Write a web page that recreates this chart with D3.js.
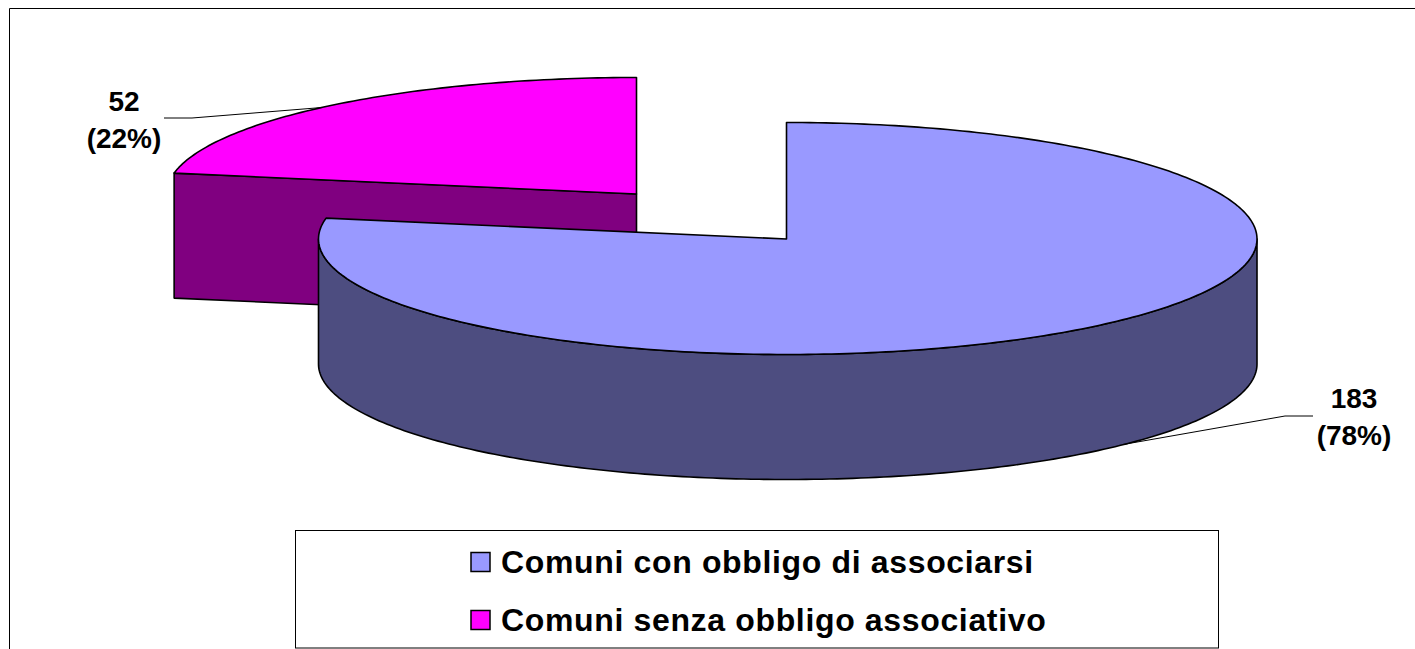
<!DOCTYPE html>
<html>
  <head>
    <meta charset="utf-8">
    <title>Comuni</title>
    <style>
      html, body { margin: 0; background: white; overflow: hidden; }
      svg { display: block; }
      text { font-family: "Liberation Sans", Arial, sans-serif; font-weight: bold; fill: black; }
      .edge { stroke: black; stroke-width: 1.6; stroke-linejoin: round; }
      .leader { fill: none; stroke: black; stroke-width: 1; }
      .frame { stroke: black; stroke-width: 1; fill: none; }
    </style>
  </head>
  <body>
    <svg width="1415" height="649"></svg>
    <script src="https://d3js.org/d3.v7.min.js"></script>
    <script type="application/javascript">
      const categories = ['Comuni con obbligo di associarsi', 'Comuni senza obbligo associativo'];
      const values = [183, 52];
      const topColors = ['#9999ff', '#ff00ff'];
      const sideColors = ['#4d4d80', '#800080'];

      const width = 1415;
      const height = 649;
      const svg = d3.select('svg');

      // top face centre of each slice, the magenta one is pulled out to the left
      const centers = [{x: 786.5, y: 239, left: 468}, {x: 636.5, y: 194, left: 470}];
      const rx = 470.5;
      const depth = 125;

      // pie angle (0 = 12 o'clock, clockwise) on to the tilted ellipse
      const py = d3.scaleLinear().domain([-1, 0, 1]).range([-116.5, 0, 115.5]);
      const slices = d3.pie().sort(null)(values);
      const total = d3.sum(values);
      const percent = d3.format('.0%');
      const line = d3.line();

      function rim(center, angle, drop) {
        const px = d3.scaleLinear().domain([-1, 0, 1]).range([-center.left, 0, rx]);
        return [center.x + px(Math.sin(angle)), center.y + py(-Math.cos(angle)) + (drop || 0)];
      }

      function arcPoints(center, a0, a1, drop) {
        const steps = Math.max(2, Math.ceil(Math.abs(a1 - a0) * 60));
        return d3.range(steps + 1).map(i => rim(center, a0 + (a1 - a0) * i / steps, drop));
      }

      function drawPoly(points, fill) {
        svg.append('path')
          .attr('class', 'edge')
          .attr('d', line(points) + 'Z')
          .attr('fill', fill);
      }

      svg.append('path')
        .attr('class', 'frame')
        .attr('d', `M9.5,${height}V8.5H${width}`);

      // magenta slice first, the blue one overlaps it
      const pink = slices[1];
      const pinkC = centers[1];
      const pinkLeft = rim(pinkC, pink.startAngle);
      drawPoly([
        pinkLeft,
        [pinkC.x, pinkC.y],
        [pinkC.x, pinkC.y + depth],
        [pinkLeft[0], pinkLeft[1] + depth]
      ], sideColors[1]);
      drawPoly(arcPoints(pinkC, pink.startAngle, pink.endAngle).concat([[pinkC.x, pinkC.y]]), topColors[1]);

      // blue slice: front wall, then top face
      const blue = slices[0];
      const blueC = centers[0];
      const front = [Math.PI / 2, Math.PI * 3 / 2];
      drawPoly(
        arcPoints(blueC, front[0], front[1]).concat(arcPoints(blueC, front[1], front[0], depth)),
        sideColors[0]
      );
      drawPoly(arcPoints(blueC, blue.startAngle, blue.endAngle).concat([[blueC.x, blueC.y]]), topColors[0]);

      // data labels with their leader lines
      const labels = [
        {i: 0, x: 1354, y: 408, path: [[1313, 416], [1285, 416], [1123, 444.5]]},
        {i: 1, x: 124, y: 111, path: [[164, 118], [192, 118], [322, 107.5]]}
      ];

      labels.forEach(l => {
        svg.append('path')
          .attr('class', 'leader')
          .attr('d', line(l.path));

        svg.append('text')
          .attr('x', l.x)
          .attr('y', l.y)
          .attr('text-anchor', 'middle')
          .style('font-size', '28px')
          .text(values[l.i]);

        svg.append('text')
          .attr('x', l.x)
          .attr('y', l.y + 37)
          .attr('text-anchor', 'middle')
          .style('font-size', '28px')
          .text(`(${percent(values[l.i] / total)})`);
      });

      // legend
      svg.append('rect')
        .attr('class', 'frame')
        .attr('x', 295.5)
        .attr('y', 530.5)
        .attr('width', 923)
        .attr('height', 117.5);

      const rows = d3.scaleBand().domain(d3.range(categories.length)).range([533, 649]);

      const legend = svg.append('g')
        .selectAll('g')
        .data(categories)
        .enter()
          .append('g')
          .attr('transform', (d, i) => `translate(0, ${rows(i) + rows.bandwidth() / 2})`);

      legend.append('rect')
        .attr('x', 471)
        .attr('y', -9.5)
        .attr('width', 19)
        .attr('height', 19)
        .attr('fill', (d, i) => topColors[i])
        .attr('stroke', 'black')
        .attr('stroke-width', 1.5);

      legend.append('text')
        .attr('x', 501)
        .attr('y', 11)
        .style('font-size', '32px')
        .style('letter-spacing', '0.65px')
        .text(d => d);
    </script>
  </body>
</html>
